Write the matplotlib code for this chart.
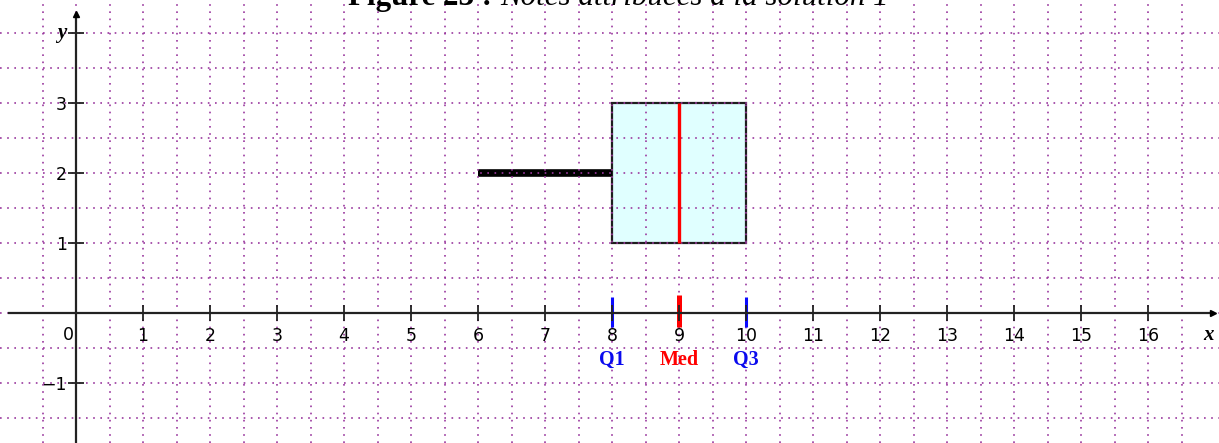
import numpy as np
import matplotlib.pyplot as plt
from matplotlib.ticker import FixedLocator

# box plot summary (notes attribuées à la solution 1)
note_min = 6
q1 = 8
mediane = 9
q3 = 10
note_max = 10

x_ticks = list(range(1, 17))
y_ticks = [-1, 1, 2, 3, 4]
y_tick_labels = ["\u22121", "1", "2", "3", ""]

grid_color = "#9a389e"

fig = plt.figure(figsize=(12.19, 4.43), dpi=100)
ax = fig.add_axes([0, 0, 1, 1])
ax.set_xlim(-76 / 67, (1219 - 76) / 67)
ax.set_ylim(-(443 - 312.7) / 70, 312.7 / 70)
ax.set_axisbelow(False)

# dotted grid every 0.5 unit
for gx in np.arange(-0.5, 16.51, 0.5):
    ax.axvline(gx, color=grid_color, lw=1.2, linestyle=(0, (1, 3.3)), zorder=1)
for gy in np.arange(-1.5, 4.01, 0.5):
    ax.axhline(gy, color=grid_color, lw=1.2, linestyle=(0, (1, 3.3)), zorder=1)

# box plot drawn horizontally, centred on y = 2
stats = [dict(med=mediane, q1=q1, q3=q3, whislo=note_min, whishi=note_max)]
bp = ax.bxp(stats, positions=[2], widths=[2], orientation="horizontal",
            patch_artist=True, showcaps=False, showfliers=False,
            boxprops=dict(facecolor="#e0ffff", edgecolor="#1e1e1e", linewidth=1.6),
            whiskerprops=dict(color="black", linewidth=5.5, solid_capstyle="butt"),
            medianprops=dict(color="red", linewidth=2.4, solid_capstyle="butt"),
            manage_ticks=False)
for b in bp["boxes"]:
    b.set_zorder(0.5)
for w in bp["whiskers"]:
    w.set_zorder(0.8)
for m in bp["medians"]:
    m.set_zorder(3)

# coloured marks of the quartiles on the x axis
ax.vlines([q1, q3], -0.2, 0.23, color="#0a0aff", lw=2.2, zorder=2)
ax.vlines([mediane], -0.2, 0.25, color="red", lw=3.6, zorder=2)
lab_font = dict(fontsize=14.5, fontweight="bold", family="Liberation Serif",
                ha="center", va="center")
ax.text(q1, -0.67, "Q1", color="#0a0aee", **lab_font)
ax.text(mediane, -0.67, "Med", color="red", **lab_font)
ax.text(q3, -0.67, "Q3", color="#0a0aee", **lab_font)

# axes through the origin with arrows
for side in ["top", "right"]:
    ax.spines[side].set_visible(False)
ax.spines["left"].set_position(("data", 0))
ax.spines["bottom"].set_position(("data", 0))
ax.spines["bottom"].set_bounds(-1.0, 16.97)
ax.spines["left"].set_bounds(-2, 4.27)
for side in ["left", "bottom"]:
    ax.spines[side].set_linewidth(1.6)
    ax.spines[side].set_color("#222222")
    ax.spines[side].set_zorder(2.6)
ax.plot(16.97, 0, marker=">", color="black", markersize=5, clip_on=False, zorder=4)
ax.plot(0, 4.27, marker="^", color="black", markersize=5, clip_on=False, zorder=4)

ax.xaxis.set_major_locator(FixedLocator(x_ticks))
ax.set_xticklabels([str(v) for v in x_ticks])
ax.yaxis.set_major_locator(FixedLocator(y_ticks))
ax.set_yticklabels(y_tick_labels)
ax.tick_params(axis="x", direction="inout", length=12, width=1.3, pad=4.5,
               labelsize=12.5, colors="#222222", labelcolor="black")
ax.tick_params(axis="y", direction="inout", length=11, width=1.3, pad=1,
               labelsize=12.5, colors="#222222", labelcolor="black")

ax.text(-0.12, -0.32, "0", fontsize=12.5, ha="center", va="center")
ax.text(16.9, -0.32, "x", fontsize=15, fontstyle="italic", fontweight="bold",
        family="Liberation Serif", ha="center", va="center")
ax.text(-0.21, 4.0, "y", fontsize=15, fontstyle="italic", fontweight="bold",
        family="Liberation Serif", ha="center", va="center")

# title, only its lower part is inside the picture
fig.text(500 / 1219, 1 - 5 / 443, "Figure 23 : ", fontsize=22.3, fontweight="bold",
         family="Liberation Serif", ha="right", va="baseline")
fig.text(500 / 1219, 1 - 5 / 443, "Notes attribuées à la solution 1", fontsize=22.3,
         fontstyle="italic", family="Liberation Serif", ha="left", va="baseline")

fig.savefig("out.png", dpi=100)
